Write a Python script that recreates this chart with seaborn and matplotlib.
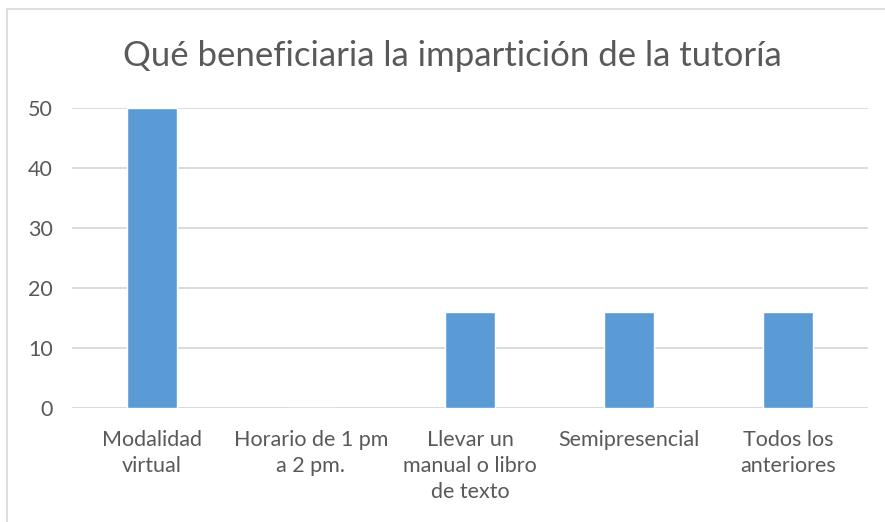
import matplotlib
matplotlib.use("Agg")
import matplotlib.pyplot as plt
import seaborn as sns
import pandas as pd
from matplotlib.patches import Rectangle

# chart data
categories = ["Modalidad\nvirtual", "Horario de 1 pm\na 2 pm.", "Llevar un\nmanual o libro\nde texto",
              "Semipresencial", "Todos los\nanteriores"]
values = [50, 0, 16, 16, 16]
yticks = [0, 10, 20, 30, 40, 50]

sns.set_style("white")
plt.rcParams['font.family'] = ['Lato', 'DejaVu Sans']

text_color = "#595959"
grid_color = "#D9D9D9"

fig = plt.figure(figsize=(8.85, 5.22), dpi=100)
ax = fig.add_axes([72 / 885, 114 / 522, 796 / 885, 300 / 522])

data = pd.DataFrame({"cat": categories, "val": values})
sns.barplot(data=data, x="cat", y="val", color="#5B9BD5", width=0.314, saturation=1, ax=ax)

ax.set_ylim(0, 50)
ax.set_yticks(yticks)
ax.set_xlabel("")
ax.set_ylabel("")
ax.yaxis.grid(True, color=grid_color, linewidth=1.3)
ax.set_axisbelow(True)
for s in ax.spines.values():
    s.set_visible(False)
ax.axhline(0, color=grid_color, linewidth=1.3, zorder=0.5)
ax.tick_params(axis="y", length=0, pad=14, labelsize=15.5, labelcolor=text_color)
ax.tick_params(axis="x", length=0, pad=16, labelsize=15.5, labelcolor=text_color)
for lbl in ax.get_xticklabels():
    lbl.set_linespacing(1.36)

fig.text(452 / 885, 1 - 56 / 522, "Qué beneficiaria la impartición de la tutoría",
         ha="center", va="center", fontsize=25, color=text_color)

# chart border
fig.patches.append(Rectangle((7 / 885, -0.05), 1.0, 1 - 9 / 522 + 0.05, transform=fig.transFigure,
                             fill=False, edgecolor=grid_color, linewidth=1.2))

fig.savefig("out.png", dpi=100)
